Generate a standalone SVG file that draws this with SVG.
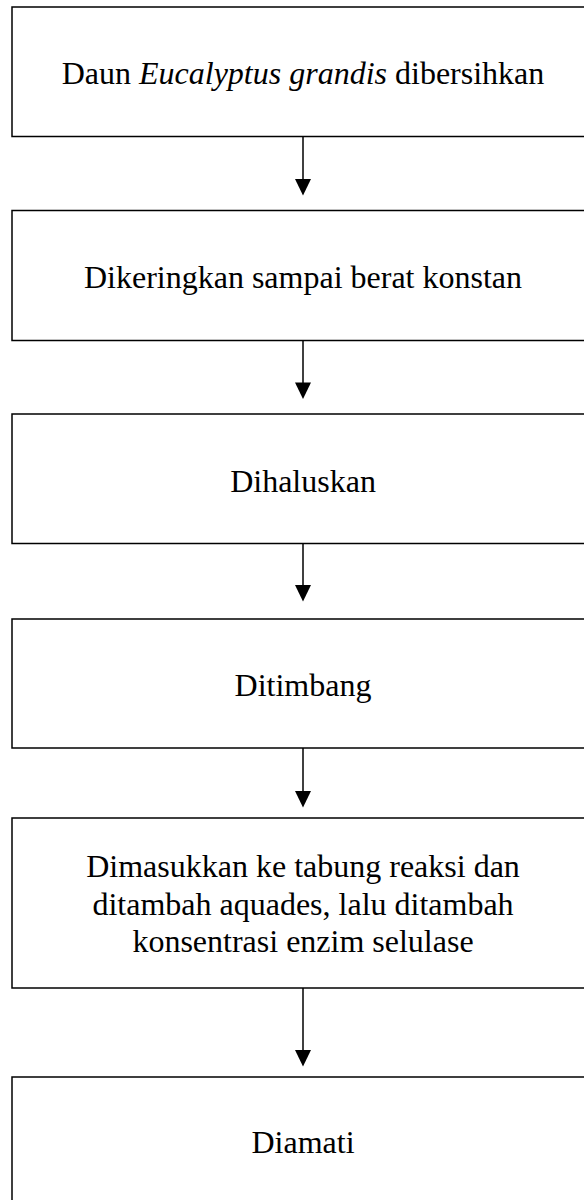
<svg xmlns="http://www.w3.org/2000/svg" width="584" height="1200" viewBox="0 0 584 1200">
<style>
.box{fill:#fff;stroke:#000;stroke-width:1.5}
.t{font-family:"Liberation Serif","Times New Roman",serif;font-size:32px;fill:#000;text-anchor:middle}
.c{stroke:#000;stroke-width:1.5;fill:none}
.h{fill:#000;stroke:none}
</style>
<rect width="584" height="1200" fill="#fff"/>
<g id="n1"><rect class="box" x="12" y="7" width="582" height="129.5"/><text class="t" x="303" y="84">Daun <tspan font-style="italic">Eucalyptus grandis</tspan> dibersihkan</text></g>
<g id="n2"><rect class="box" x="12" y="210.5" width="582" height="130"/><text class="t" x="303" y="288">Dikeringkan sampai berat konstan</text></g>
<g id="n3"><rect class="box" x="12" y="414" width="582" height="129.5"/><text class="t" x="303" y="491.5">Dihaluskan</text></g>
<g id="n4"><rect class="box" x="12" y="619" width="582" height="129"/><text class="t" x="303" y="696">Ditimbang</text></g>
<g id="n5"><rect class="box" x="12" y="818" width="582" height="170"/><text class="t" x="303" y="876.5">Dimasukkan ke tabung reaksi dan</text><text class="t" x="303" y="914.5">ditambah aquades, lalu ditambah</text><text class="t" x="303" y="952">konsentrasi enzim selulase</text></g>
<g id="n6"><rect class="box" x="12" y="1077" width="582" height="130"/><text class="t" x="303" y="1153">Diamati</text></g>
<g id="connectors">
<line class="c" x1="303" y1="136.5" x2="303" y2="180"/><polygon class="h" points="295,179 311,179 303,195.5"/>
<line class="c" x1="303" y1="340.5" x2="303" y2="384"/><polygon class="h" points="295,382.5 311,382.5 303,399"/>
<line class="c" x1="303" y1="543.5" x2="303" y2="586"/><polygon class="h" points="295,585 311,585 303,601.5"/>
<line class="c" x1="303" y1="748" x2="303" y2="792"/><polygon class="h" points="295,791 311,791 303,807.5"/>
<line class="c" x1="303" y1="988" x2="303" y2="1051"/><polygon class="h" points="295,1050 311,1050 303,1066.5"/>
</g>
</svg>
